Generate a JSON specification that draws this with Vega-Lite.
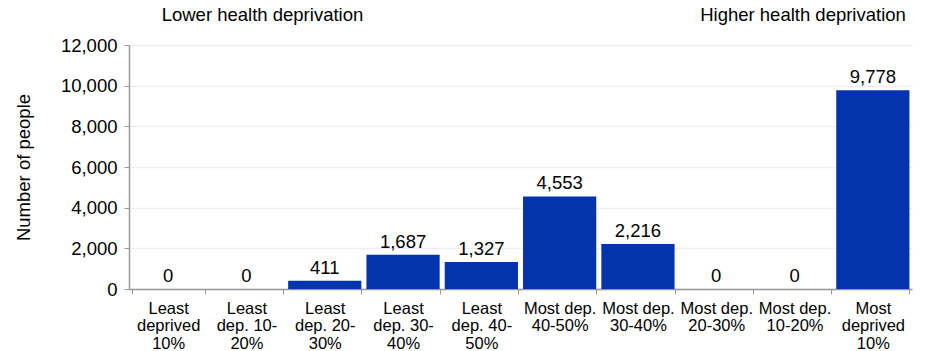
{
  "$schema": "https://vega.github.io/schema/vega-lite/v6.json",
  "width": 783,
  "height": 244,
  "autosize": {"type": "none"},
  "padding": {"left": 129, "top": 45, "right": 16, "bottom": 62},
  "background": "white",
  "config": {
    "font": "Liberation Sans",
    "view": {"stroke": null}
  },
  "datasets": {
    "bars": [
      {"category": "Least|deprived|10%", "people": 0},
      {"category": "Least|dep. 10-|20%", "people": 0},
      {"category": "Least|dep. 20-|30%", "people": 411},
      {"category": "Least|dep. 30-|40%", "people": 1687},
      {"category": "Least|dep. 40-|50%", "people": 1327},
      {"category": "Most dep.|40-50%", "people": 4553},
      {"category": "Most dep.|30-40%", "people": 2216},
      {"category": "Most dep.|20-30%", "people": 0},
      {"category": "Most dep.|10-20%", "people": 0},
      {"category": "Most|deprived|10%", "people": 9778}
    ],
    "notes": [
      {"category": "Least|dep. 10-|20%", "y": 13500, "note": "Lower health deprivation", "side": "left"},
      {"category": "Most|deprived|10%", "y": 13500, "note": "Higher health deprivation", "side": "right"}
    ]
  },
  "layer": [
    {
      "data": {"name": "bars"},
      "mark": {"type": "bar", "color": "#0333AD"},
      "encoding": {
        "x": {
          "field": "category", "type": "nominal", "sort": null,
          "scale": {"paddingInner": 0.065, "paddingOuter": 0.0325},
          "axis": {
            "title": null,
            "labelAngle": 0,
            "labelExpr": "split(datum.label, '|')",
            "labelFontSize": 16.5,
            "labelLineHeight": 17.3,
            "labelColor": "#000000",
            "labelPadding": 6.5,
            "labelBaseline": "top",
            "tickBand": "extent",
            "tickColor": "#999999",
            "tickSize": 5,
            "domainColor": "#999999",
            "domainWidth": 1.5
          }
        },
        "y": {
          "field": "people", "type": "quantitative",
          "scale": {"domain": [0, 12000], "nice": false},
          "axis": {
            "title": "Number of people",
            "titleFontSize": 18.5,
            "titleFontWeight": "normal",
            "titleColor": "#000000",
            "titlePadding": 27,
            "values": [0, 2000, 4000, 6000, 8000, 10000, 12000],
            "format": ",.0f",
            "labelFontSize": 18.5,
            "labelColor": "#000000",
            "labelPadding": 7,
            "tickColor": "#999999",
            "tickSize": 5,
            "domainColor": "#999999",
            "domainWidth": 1.5,
            "gridColor": "#eeeeee",
            "gridWidth": 1.5
          }
        }
      }
    },
    {
      "data": {"name": "bars"},
      "mark": {"type": "text", "fontSize": 18.5, "dy": -7, "baseline": "alphabetic", "color": "#000000"},
      "encoding": {
        "x": {"field": "category", "type": "nominal", "sort": null},
        "y": {"field": "people", "type": "quantitative"},
        "text": {"field": "people", "type": "quantitative", "format": ",.0f"}
      }
    },
    {
      "data": {"name": "notes"},
      "transform": [{"filter": "datum.side == 'left'"}],
      "mark": {"type": "text", "fontSize": 18.5, "dx": 16, "baseline": "middle", "align": "center", "color": "#000000", "clip": false},
      "encoding": {
        "x": {"field": "category", "type": "nominal", "sort": null},
        "y": {"field": "y", "type": "quantitative"},
        "text": {"field": "note"}
      }
    },
    {
      "data": {"name": "notes"},
      "transform": [{"filter": "datum.side == 'right'"}],
      "mark": {"type": "text", "fontSize": 18.5, "dx": 33, "baseline": "middle", "align": "right", "color": "#000000", "clip": false},
      "encoding": {
        "x": {"field": "category", "type": "nominal", "sort": null},
        "y": {"field": "y", "type": "quantitative"},
        "text": {"field": "note"}
      }
    }
  ]
}
